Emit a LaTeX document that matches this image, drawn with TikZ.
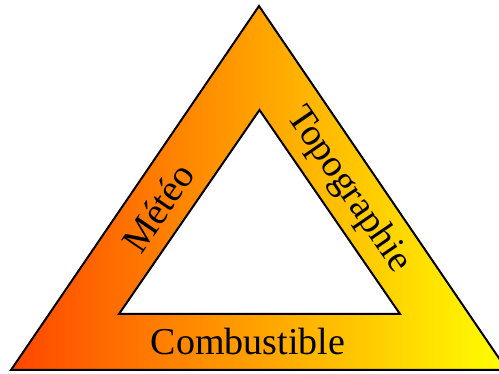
\documentclass[tikz,border=0pt]{standalone}
\usepackage{fontspec}
\setmainfont{Liberation Serif}
\definecolor{fireleft}{RGB}{255,70,0}
\definecolor{fireright}{RGB}{255,255,0}
\tikzset{
  band/.style={draw=black, line width=2pt, line join=miter, left color=fireleft, right color=fireright},
  hole/.style={draw=black, line width=2pt, line join=miter, fill=white},
  lbl/.style={inner sep=0pt, outer sep=0pt, font=\fontsize{38}{40}\selectfont, text=black}
}
\begin{document}
\begin{tikzpicture}[x=1pt,y=-1pt]
  \useasboundingbox (0,0) rectangle (499,374);
  \clip (0,0) rectangle (499,374);
  \coordinate (oA) at (259,6);
  \coordinate (oL) at (11,370);
  \coordinate (oR) at (507,370);
  \coordinate (iA) at (259.5,110);
  \coordinate (iL) at (119,314);
  \coordinate (iR) at (400,314);
  \path[band] (oA) -- (oL) -- (oR) -- cycle;
  \path[hole] (iA) -- (iL) -- (iR) -- cycle;
  \node[lbl, rotate=55.6] (meteo) at (158,208) {Météo};
  \node[lbl, rotate=-55.6] (topo) at (348,190) {Topographie};
  \node[lbl] (comb) at (248,342) {Combustible};
\end{tikzpicture}
\end{document}
